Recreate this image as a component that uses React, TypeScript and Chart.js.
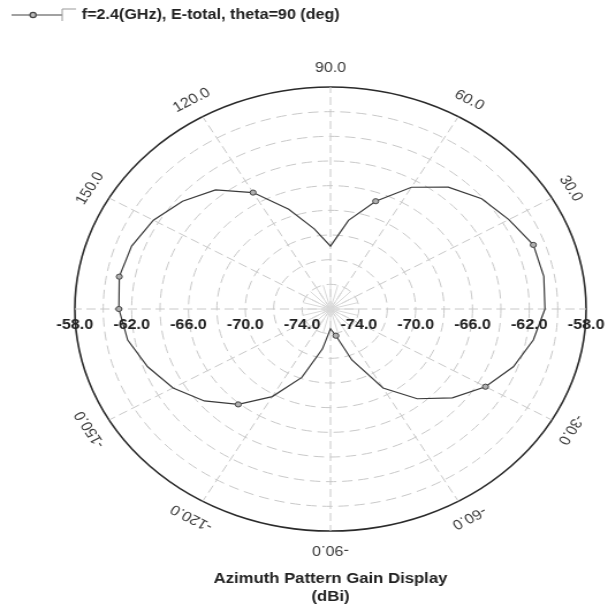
import React, { useEffect, useRef } from 'react';
import { Chart, registerables } from 'chart.js';

Chart.register(...registerables);

// ---- data ----
const angles = [
  -180, -170, -160, -150, -140, -130, -120, -110, -100, -90,
  -80, -70, -60, -50, -40, -30, -20, -10, 0, 10,
  20, 30, 40, 50, 60, 70, 80, 90, 100, 110,
  120, 130, 140, 150, 160, 170,
];
const gainDbi = [
  -61.1, -61.5, -62.3, -63.2, -64.4, -65.9, -67.8, -70.1, -72.7, -74.4,
  -73.8, -71.6, -68.6, -66.5, -64.8, -63.4, -62.3, -61.5, -60.9, -60.75,
  -60.8, -61.5, -62.1, -63.1, -64.6, -66.7, -68.7, -70.9, -69.4, -67.4,
  -65.1, -63.4, -62.4, -61.6, -61.1, -60.9,
];
const markerAngles = [-180, -130, -80, -30, 20, 70, 120, 170];
const angleTickLabels = [30, 60, 90, 120, 150, -150, -120, -90, -60, -30];
const radialTickLabels = [-58, -62, -66, -70, -74];
const radialMin = -76;
const radialMax = -58;
const radialStep = 2;
const legendText = 'f=2.4(GHz), E-total, theta=90 (deg)';
const titleLines = ['Azimuth Pattern Gain Display', '(dBi)'];

// radar order: index 0 at 0 deg (right), going clockwise (decreasing angle)
const startIdx = angles.indexOf(0);
const order = angles.map((_, k) => (startIdx - k + angles.length) % angles.length);
const radarLabels = order.map((i) => angles[i]);
const radarData = order.map((i) => gainDbi[i]);

const FONT = '"Liberation Sans", Arial, sans-serif';

const overlay = {
  id: 'overlay',
  beforeDatasetsDraw(chart: any) {
    const s = chart.scales.r;
    const ctx = chart.ctx;
    const r = s.getDistanceFromCenterForValue(-74);
    ctx.save();
    ctx.strokeStyle = '#d8d8d8';
    ctx.lineWidth = 1;
    for (let a = 0; a < 360; a += 15) {
      const t = (a * Math.PI) / 180;
      ctx.beginPath();
      ctx.moveTo(s.xCenter, s.yCenter);
      ctx.lineTo(s.xCenter + r * Math.cos(t), s.yCenter - r * Math.sin(t));
      ctx.stroke();
    }
    ctx.restore();
  },
  afterDraw(chart: any) {
    const s = chart.scales.r;
    const ctx = chart.ctx;
    const xc = s.xCenter;
    const yc = s.yCenter;
    ctx.save();

    // angle labels around the outer circle
    const R = s.drawingArea + 19;
    ctx.fillStyle = '#3c3c3c';
    ctx.font = `14px ${FONT}`;
    ctx.textAlign = 'center';
    ctx.textBaseline = 'middle';
    angleTickLabels.forEach((th) => {
      const t = (th * Math.PI) / 180;
      ctx.save();
      ctx.translate(xc + R * Math.cos(t), yc - R * Math.sin(t));
      ctx.rotate(((90 - th) * Math.PI) / 180);
      ctx.fillText(th.toFixed(1), 0, 0);
      ctx.restore();
    });

    // radial tick labels along the horizontal axis
    ctx.fillStyle = '#222';
    ctx.font = `bold 14px ${FONT}`;
    radialTickLabels.forEach((v) => {
      const d = s.getDistanceFromCenterForValue(v);
      ctx.fillText(v.toFixed(1), xc - d, yc + 16);
      ctx.fillText(v.toFixed(1), xc + d, yc + 16);
    });

    // title
    ctx.font = `bold 14.5px ${FONT}`;
    ctx.fillText(titleLines[0], xc, 579);
    ctx.fillText(titleLines[1], xc, 597);

    // legend
    ctx.strokeStyle = '#444';
    ctx.lineWidth = 1.2;
    ctx.beginPath();
    ctx.moveTo(10, 15);
    ctx.lineTo(54, 15);
    ctx.stroke();
    ctx.beginPath();
    ctx.arc(28.7, 15, 2.6, 0, Math.PI * 2);
    ctx.fillStyle = '#bbb';
    ctx.fill();
    ctx.stroke();
    ctx.strokeStyle = '#999';
    ctx.lineWidth = 1;
    ctx.beginPath();
    ctx.moveTo(54, 21);
    ctx.lineTo(54, 9);
    ctx.lineTo(66, 9);
    ctx.stroke();
    ctx.fillStyle = '#222';
    ctx.font = `bold 14px ${FONT}`;
    ctx.textAlign = 'left';
    ctx.fillText(legendText, 71, 15);

    ctx.restore();
  },
};

export default function App() {
  const ref = useRef<HTMLCanvasElement>(null);

  useEffect(() => {
    if (!ref.current) return;
    const chart = new Chart(ref.current, {
      type: 'radar',
      data: {
        labels: radarLabels,
        datasets: [
          {
            data: radarData,
            borderColor: '#3a3a3a',
            borderWidth: 1.2,
            backgroundColor: 'transparent',
            fill: false,
            tension: 0,
            pointRadius: (c: any) => (markerAngles.includes(radarLabels[c.dataIndex]) ? 2.6 : 0),
            pointHoverRadius: 0,
            pointStyle: 'circle',
            pointBackgroundColor: '#b0b0b0',
            pointBorderColor: '#444',
            pointBorderWidth: 1,
          },
        ],
      },
      options: {
        responsive: false,
        animation: false,
        devicePixelRatio: 1,
        events: [],
        layout: { padding: { left: 65, right: 18, top: 87, bottom: 78 } },
        plugins: {
          legend: { display: false },
          tooltip: { enabled: false },
          title: { display: false },
        },
        scales: {
          r: {
            min: radialMin,
            max: radialMax,
            startAngle: 90,
            ticks: { display: false, stepSize: radialStep },
            pointLabels: { display: false },
            grid: {
              circular: true,
              color: (c: any) => (c.tick && c.tick.value === radialMax ? '#2a2a2a' : '#c8c8c8'),
              lineWidth: (c: any) => (c.tick && c.tick.value === radialMax ? 1.6 : 1),
            },
            border: {
              dash: (c: any) => (c.tick && c.tick.value === radialMax ? [] : [9, 5]),
            },
            angleLines: {
              display: true,
              color: '#c8c8c8',
              lineWidth: (c: any) => (radarLabels[c.index] % 30 === 0 ? 1 : 0),
              borderDash: [8, 4],
            },
          },
        },
      } as any,
      plugins: [overlay],
    });
    return () => chart.destroy();
  }, []);

  return (
    <canvas
      ref={ref}
      width={528}
      height={610}
      style={{ position: 'fixed', left: 0, top: 0, width: '608px', height: '610px' }}
    />
  );
}
